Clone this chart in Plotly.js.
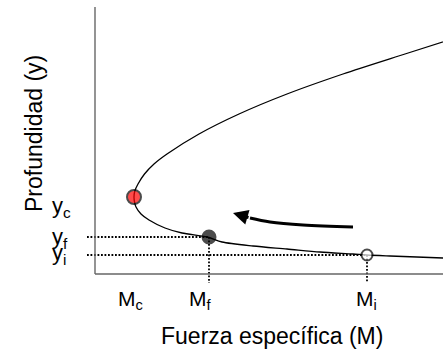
<!DOCTYPE html>
<html>
<head>
<meta charset="utf-8">
<script src="https://cdn.plot.ly/plotly-3.0.1.min.js"></script>
<style>html,body{margin:0;padding:0;background:#fff;}#chart{width:443px;height:350px;}</style>
</head>
<body>
<div id="chart"></div>
<script>
// Specific-force curve (M vs depth y), arbitrary units
const curveY = [15, 16, 18, 19, 20, 22, 25, 28, 32, 37, 41, 46, 54, 60, 67, 72, 77, 83, 90, 100, 110, 120, 140, 160, 180, 200, 220, 235];
const curveM = [375, 348, 295, 272, 258, 225, 192, 158, 127, 112, 87, 70, 54, 46, 41, 39.5, 39, 39.8, 43, 49.5, 59, 72, 104, 144, 192, 248, 310, 357];

// Marked states: critical, final, initial
const stateNames = ['c', 'f', 'i'];
const stateM = [39, 114, 272];
const stateY = [77, 37, 19];

// Axis extents (data units)
const axisMaxM = 348;
const axisMaxY = 267;
const dotFromM = -8;   // dotted guides start a little left of the y axis
const dotToY = -9;     // and end a little below the x axis

// Arrow (direction of the transition)
const arrowBodyM = [258, 208, 175, 155];
const arrowBodyY = [47, 49, 52, 56];
const arrowTipM = 138;
const arrowTipY = 61;

// Text
const xTitle = 'Fuerza específica (M)';
const yTitle = 'Profundidad (y)';

const W = 443, H = 350, L = 86, R = 0, T = 7, B = 66;
const pw = W - L - R, ph = H - T - B;
const px2paperX = p => (p - L) / pw;
const px2paperY = p => (H - B - p) / ph;

const FONT = 'Liberation Sans, Arial, sans-serif';
const traces = [];

// dotted guides for f and i
const guideIdx = [1, 2];
guideIdx.forEach(k => {
  traces.push({x: [dotFromM, stateM[k]], y: [stateY[k], stateY[k]], mode: 'lines',
    line: {color: '#000', width: 1.8, dash: '1.8px,1.7px'}, hoverinfo: 'skip'});
  traces.push({x: [stateM[k], stateM[k]], y: [stateY[k], dotToY], mode: 'lines',
    line: {color: '#000', width: 1.8, dash: '1.8px,1.7px'}, hoverinfo: 'skip'});
});

// axes as lines
traces.push({x: [0, 0], y: [axisMaxY, 0], mode: 'lines', line: {color: '#666', width: 1.4}, hoverinfo: 'skip'});
traces.push({x: [0, axisMaxM], y: [0, 0], mode: 'lines', line: {color: '#666', width: 1.4}, hoverinfo: 'skip'});

// curve
traces.push({x: curveM, y: curveY, mode: 'lines', line: {color: '#000', width: 1.3, shape: 'spline', smoothing: 0.8}, hoverinfo: 'skip'});

// arrow body
traces.push({x: arrowBodyM, y: arrowBodyY, mode: 'lines', line: {color: '#000', width: 3, shape: 'spline'}, hoverinfo: 'skip'});

// markers
traces.push({x: stateM, y: stateY, mode: 'markers', cliponaxis: false,
  marker: {size: [14, 13, 11], color: ['#ff0000', '#000000', '#ffffff'], line: {color: '#000', width: 2}}, hoverinfo: 'skip'});

const annotations = [];
// y labels
const yLabelShift = [-10, -1, 1];
stateNames.forEach((n, k) => {
  annotations.push({xref: 'paper', x: px2paperX(50), xanchor: 'left', yref: 'y', y: stateY[k], yanchor: 'middle',
    yshift: yLabelShift[k], text: 'y<sub>' + n + '</sub>', showarrow: false, font: {family: FONT, size: 22, color: '#000'}});
});
// M labels
const mLabelShift = [-4, -9, -1];
stateNames.forEach((n, k) => {
  annotations.push({xref: 'x', x: stateM[k], xanchor: 'center', xshift: mLabelShift[k], yref: 'paper', y: px2paperY(300), yanchor: 'middle',
    text: 'M<sub>' + n + '</sub>', showarrow: false, font: {family: FONT, size: 21, color: '#000'}});
});
// titles
annotations.push({xref: 'paper', x: px2paperX(272), yref: 'paper', y: px2paperY(336), xanchor: 'center', yanchor: 'middle',
  text: xTitle, showarrow: false, font: {family: FONT, size: 23, color: '#000'}});
annotations.push({xref: 'paper', x: px2paperX(34), yref: 'paper', y: px2paperY(134), xanchor: 'center', yanchor: 'middle',
  text: yTitle, textangle: -90, showarrow: false, font: {family: FONT, size: 23, color: '#000'}});
// arrow head
annotations.push({xref: 'x', yref: 'y', x: arrowTipM, y: arrowTipY, axref: 'x', ayref: 'y',
  ax: arrowBodyM[arrowBodyM.length - 1], ay: arrowBodyY[arrowBodyY.length - 1],
  text: '', showarrow: true, arrowhead: 2, arrowsize: 1, arrowwidth: 3, arrowcolor: '#000', standoff: 0, startstandoff: 0});

const layout = {
  width: W, height: H,
  margin: {l: L, r: R, t: T, b: B, pad: 0},
  paper_bgcolor: '#fff', plot_bgcolor: '#fff',
  showlegend: false,
  xaxis: {range: [dotFromM - 1, axisMaxM], showgrid: false, zeroline: false, showline: false, showticklabels: false, ticks: ''},
  yaxis: {range: [dotToY - 1, axisMaxY], showgrid: false, zeroline: false, showline: false, showticklabels: false, ticks: ''},
  annotations: annotations
};

Plotly.newPlot('chart', traces, layout, {staticPlot: true, displayModeBar: false});
</script>
</body>
</html>
